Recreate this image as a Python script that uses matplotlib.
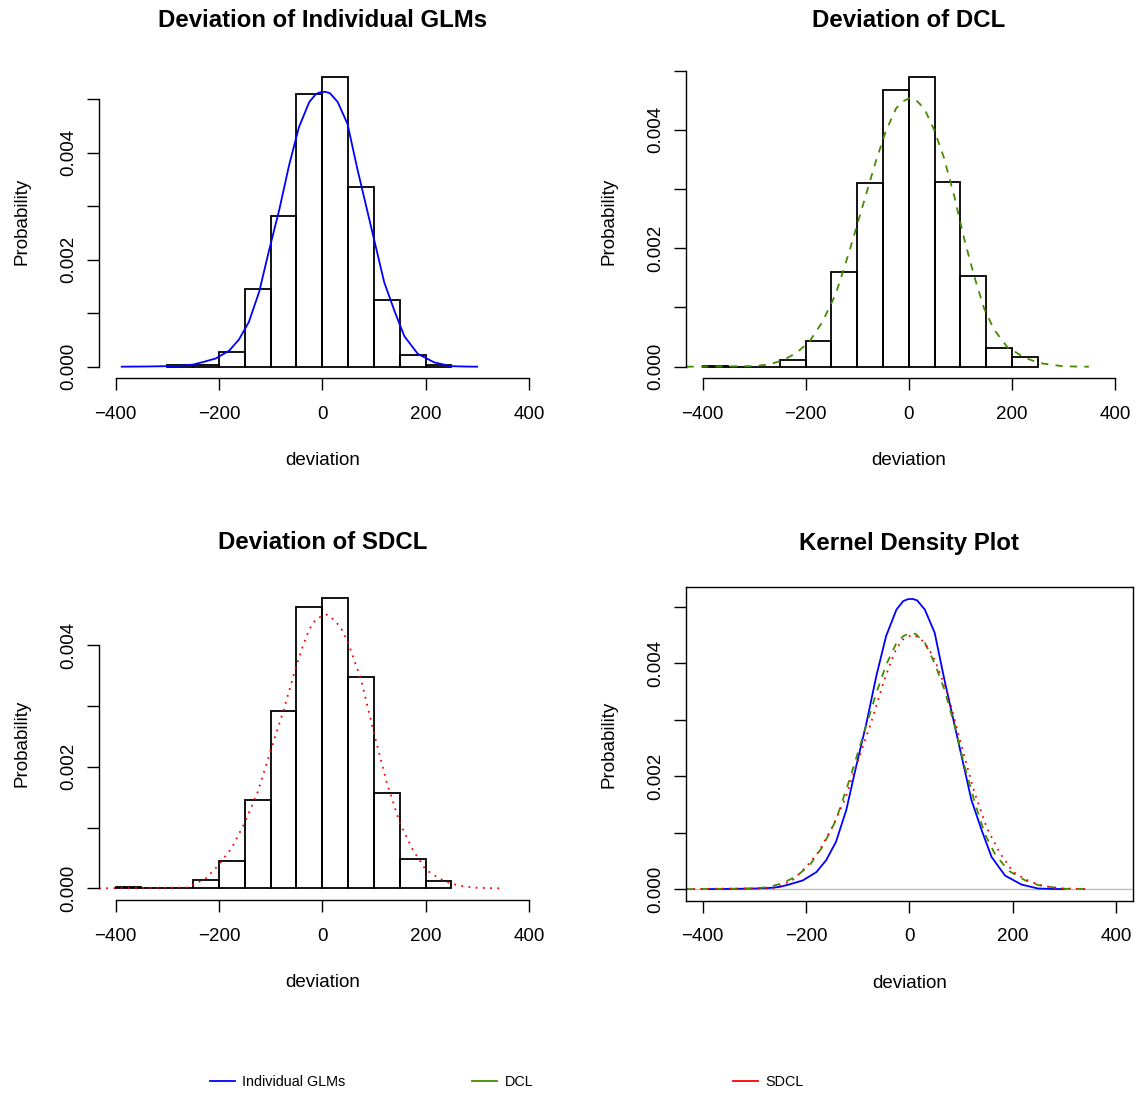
# deviation histograms + kernel density overlay (2x2), R base graphics look
import numpy as np
import matplotlib
matplotlib.use("Agg")
import matplotlib.pyplot as plt
from matplotlib.lines import Line2D

plt.rcParams["font.family"] = ["Liberation Sans", "DejaVu Sans"]
plt.rcParams["axes.unicode_minus"] = True

# --- histogram data (density per 50-wide bin) ---
BIN_WIDTH = 50
glm_breaks = [-300, -250, -200, -150, -100, -50, 0, 50, 100, 150, 200]
glm_hist = [0.00004, 0.00004, 0.000275, 0.001456, 0.00282, 0.0051,
            0.005425, 0.003356, 0.001238, 0.000219, 0.00004]

dcl_breaks = [-400, -350, -300, -250, -200, -150, -100, -50, 0, 50, 100, 150, 200]
dcl_hist = [0.000017, 0.0, 0.0, 0.000113, 0.000435, 0.0016, 0.0031,
            0.004678, 0.0049, 0.003113, 0.001537, 0.000322, 0.000158]

sdcl_breaks = [-400, -350, -300, -250, -200, -150, -100, -50, 0, 50, 100, 150, 200]
sdcl_hist = [0.000027, 0.0, 0.0, 0.000137, 0.000456, 0.00146, 0.00292,
             0.004626, 0.00477, 0.003467, 0.001566, 0.000478, 0.000115]

# --- kernel density curves ---
glm_x = [-388, -330, -300, -271, -250, -232, -206, -180, -161, -142, -122, -103,
         -83, -64, -45, -25, -12, -3, 6, 15, 30, 49, 68, 81, 94, 107, 120, 140,
         159, 185, 217, 249, 275, 300]
glm_y = [0.0, 0.000005, 0.00001, 0.00002, 0.00004, 0.000083, 0.000154, 0.0003,
         0.00051, 0.000835, 0.0014, 0.00217, 0.00294, 0.00377, 0.00448, 0.00495,
         0.0051, 0.005135, 0.00514, 0.005115, 0.00495, 0.00454, 0.0037, 0.00317,
         0.00264, 0.00211, 0.00158, 0.00104, 0.00057, 0.00024, 0.00008, 0.00001,
         0.000003, 0.0]

dcl_x = [-431, -400, -350, -300, -270, -245, -219, -193, -168, -142, -116, -90,
         -64, -45, -25, -12, 1, 12, 30, 49, 68, 88, 107, 127, 146, 165, 191, 224,
         250, 262, 300, 349]
dcl_y = [0.0, 0.000002, 0.000006, 0.00001, 0.00004, 0.000107, 0.000225, 0.00042,
         0.00075, 0.00122, 0.00193, 0.0027, 0.00347, 0.00397, 0.00436, 0.00448,
         0.004536, 0.00452, 0.00436, 0.004, 0.00353, 0.00288, 0.00217, 0.00152,
         0.00098, 0.00063, 0.00033, 0.000155, 0.00007, 0.00005, 0.000006, 0.0]

sdcl_x = [-432, -400, -350, -300, -260, -250, -225, -200, -175, -150, -125, -100,
          -75, -50, -37.5, -25, -12.5, 0, 10, 25, 37.5, 50, 75, 100, 125, 150,
          175, 200, 225, 250, 275, 300, 350]
sdcl_y = [0.0, 0.000005, 0.000008, 0.00001, 0.000015, 0.00006, 0.000165, 0.00039,
          0.000665, 0.00108, 0.00158, 0.00226, 0.00292, 0.00366, 0.00398, 0.00426,
          0.00442, 0.00448, 0.0045, 0.0044, 0.00426, 0.00404, 0.00344, 0.00256,
          0.00174, 0.00108, 0.00064, 0.00031, 0.00017, 0.000077, 0.00003,
          0.00001, 0.0]

BLUE, GREEN, RED = "#0000FF", "#458B00", "#FF0000"
LABELS = ["Individual GLMs", "DCL", "SDCL"]

W, H = 1146, 1093
fig = plt.figure(figsize=(W / 100, H / 100), dpi=100)


def r_lim(lo, hi):
    # R's default 4% axis extension
    d = (hi - lo) * 0.04
    return lo - d, hi + d


def px_axes(left, top, right, bottom):
    return fig.add_axes([left / W, 1 - bottom / H, (right - left) / W, (bottom - top) / H])


def style(ax, ymax, title, box=False):
    ax.set_xlim(*r_lim(-400, 400))
    ax.set_ylim(*r_lim(0, ymax))
    xt = [-400, -200, 0, 200, 400]
    ax.set_xticks(xt)
    ax.set_xticklabels([str(v) if v >= 0 else "\u2212" + str(-v) for v in xt])
    yt = [v / 1000 for v in range(6) if v / 1000 <= ax.get_ylim()[1]]
    ax.set_yticks(yt)
    ax.set_yticklabels(["%.3f" % v if i % 2 == 0 else "" for i, v in enumerate(yt)],
                       rotation=90, va="center")
    ax.tick_params(length=8.6, width=1.0, direction="out", labelsize=13.5)
    ax.tick_params(axis="x", pad=11.3)
    ax.tick_params(axis="y", pad=7)
    for s in ax.spines.values():
        s.set_linewidth(1.0)
    if not box:
        ax.spines["top"].set_visible(False)
        ax.spines["right"].set_visible(False)
        ax.spines["bottom"].set_bounds(-400, 400)
        ax.spines["left"].set_bounds(0, yt[-1])
    ax.set_xlabel("deviation", fontsize=13.5, labelpad=21)
    ax.set_ylabel("Probability", fontsize=13.5, labelpad=21.5)
    ax.set_title(title, fontsize=17.3, fontweight="bold", pad=27)
    ax.patch.set_alpha(0)


def hist(ax, breaks, heights):
    ax.bar(breaks, heights, width=BIN_WIDTH, align="edge", fill=False,
           edgecolor="black", linewidth=1.3)


ax1 = px_axes(99, 65, 545.4, 378.3)
hist(ax1, glm_breaks, glm_hist)
ax1.plot(glm_x, glm_y, color=BLUE, lw=1.3)
style(ax1, max(glm_hist), "Deviation of Individual GLMs")

ax2 = px_axes(686, 65, 1131.7, 378.3)
hist(ax2, dcl_breaks, dcl_hist)
ax2.plot(dcl_x, dcl_y, color=GREEN, lw=1.3, dashes=(4, 4))
style(ax2, max(dcl_hist), "Deviation of DCL")

ax3 = px_axes(99, 586.6, 545.4, 900)
hist(ax3, sdcl_breaks, sdcl_hist)
ax3.plot(sdcl_x, sdcl_y, color=RED, lw=1.3, dashes=(1, 3))
style(ax3, max(sdcl_hist), "Deviation of SDCL")

ax4 = px_axes(686, 587.3, 1132.7, 900.7)
ax4.axhline(0, color="#BEBEBE", lw=1.0)
ax4.plot(glm_x, glm_y, color=BLUE, lw=1.3)
ax4.plot(dcl_x, dcl_y, color=GREEN, lw=1.3, dashes=(4, 4))
ax4.plot(sdcl_x, sdcl_y, color=RED, lw=1.3, dashes=(1, 3))
style(ax4, max(glm_y), "Kernel Density Plot", box=True)

# legend along the bottom, three separate entries like R's horiz legend
for x0, col, lab in zip([210, 472, 733], [BLUE, GREEN, RED], LABELS):
    fig.legend([Line2D([], [], color=col, lw=1.3)], [lab], loc="center left",
               bbox_to_anchor=(x0 / W, 1 - 1082 / H), frameon=False,
               fontsize=10.4, handlelength=1.75, handletextpad=0.5,
               borderpad=0, borderaxespad=0)

fig.savefig("out.png", dpi=100)
